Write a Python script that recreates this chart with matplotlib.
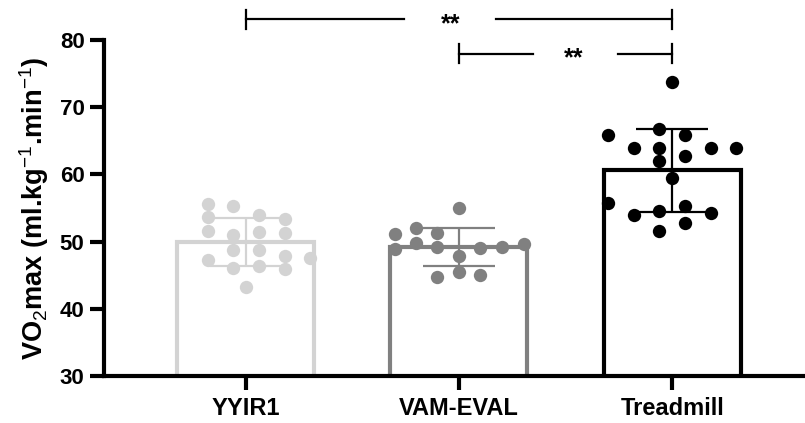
import numpy as np
import matplotlib
matplotlib.use("Agg")
import matplotlib.pyplot as plt

plt.rcParams['font.family'] = ['Liberation Sans', 'DejaVu Sans']
plt.rcParams['mathtext.fontset'] = 'custom'
plt.rcParams['mathtext.rm'] = 'Liberation Sans'
plt.rcParams['mathtext.bf'] = 'Liberation Sans:bold'

# ---------------- data ----------------
categories = ["YYIR1", "VAM-EVAL", "Treadmill"]
yyir1_vals = [55.6, 55.3, 53.7, 54.0, 53.3, 51.6, 51.5, 51.3, 51.0,
              48.7, 48.7, 47.9, 47.5, 47.3, 46.0, 46.4, 45.9, 43.2]
vam_vals = [55.0, 51.2, 52.0, 51.3, 48.9, 49.8, 49.2, 47.8, 49.1,
            49.2, 49.6, 44.8, 45.5, 45.1]
tread_vals = [73.7, 65.9, 66.8, 65.9, 63.9, 64.0, 64.0, 64.0, 62.8,
              62.0, 59.4, 55.8, 54.0, 54.6, 55.3, 54.2, 51.6, 52.7]
# horizontal scatter offsets of the dots (layout, in category units)
yyir1_jit = [-0.177, -0.060, -0.177, 0.061, 0.183, -0.177, 0.061, 0.183, -0.060,
             -0.060, 0.061, 0.183, 0.300, -0.177, -0.060, 0.061, 0.183, 0.0]
vam_jit = [0.0, -0.300, -0.202, -0.102, -0.300, -0.202, -0.102, 0.0, 0.098,
           0.202, 0.305, -0.102, 0.0, 0.098]
tread_jit = [0.0, -0.302, -0.060, 0.062, -0.181, -0.060, 0.183, 0.300, 0.062,
             -0.060, 0.0, -0.302, -0.181, -0.060, 0.062, 0.183, -0.060, 0.062]
yticks = [30, 40, 50, 60, 70, 80]
sig_labels = ["**", "**"]

groups = [yyir1_vals, vam_vals, tread_vals]
jitters = [yyir1_jit, vam_jit, tread_jit]
colors = ["#d3d3d3", "#808080", "#000000"]

means = [np.mean(g) for g in groups]
sds = [np.std(g, ddof=1) for g in groups]

# ---------------- figure ----------------
fig = plt.figure(figsize=(8.05, 4.23), dpi=100)
ax = fig.add_axes([0.1292, 0.1111, 0.8683, 0.7943])

x = np.arange(len(categories))
bars = ax.bar(x, means, width=0.642, bottom=0, facecolor="white",
              edgecolor=colors, linewidth=3, zorder=2)
for b in bars:
    b.set_joinstyle("miter")

cap = 0.169
for xi, m, s, c in zip(x, means, sds, colors):
    ax.vlines(xi, m - s, m + s, color=c, lw=1.6, zorder=3)
    ax.hlines([m - s, m + s], xi - cap, xi + cap, color=c, lw=1.6, zorder=3)

for xi, vals, jit, c in zip(x, groups, jitters, colors):
    ax.plot(xi + np.array(jit), vals, "o", ms=9.6, mew=0, color=c,
            zorder=4, clip_on=False)

ax.set_xlim(-0.664, 2.613)
ax.set_ylim(30, 80)
ax.set_yticks(yticks)
ax.set_xticks(x)
ax.set_xticklabels(categories, fontsize=17, fontweight="bold")
ax.set_yticklabels([str(t) for t in yticks], fontsize=16, fontweight="bold")
for sp in ["top", "right"]:
    ax.spines[sp].set_visible(False)
for sp in ["left", "bottom"]:
    ax.spines[sp].set_linewidth(3)
    ax.spines[sp].set_capstyle("projecting")
ax.tick_params(axis="both", direction="out", length=10, width=3)
ax.tick_params(axis="y", pad=4)
ax.tick_params(axis="x", pad=5)

ax.set_ylabel(r"VO$_\mathrm{2}$max (ml.kg$^\mathrm{-1}$.min$^\mathrm{-1}$)",
              fontsize=19.5, fontweight="bold", labelpad=6)

# ---------------- significance brackets ----------------
def bracket(x1, x2, y, gap_l, gap_r, tx, label):
    kw = dict(color="black", lw=1.6, clip_on=False, zorder=5)
    ax.plot([x1, gap_l], [y, y], **kw)
    ax.plot([gap_r, x2], [y, y], **kw)
    ax.plot([x1, x1], [y - 1.4, y + 1.4], **kw)
    ax.plot([x2, x2], [y - 1.4, y + 1.4], **kw)
    ax.text(tx, y - 0.7, label, ha="center", va="center", fontsize=18,
            fontweight="bold", clip_on=False)

bracket(0.0, 2.0, 83.1, 0.742, 1.173, 0.96, sig_labels[0])
bracket(1.0, 2.0, 77.95, 1.347, 1.746, 1.54, sig_labels[1])

fig.savefig("out.png", dpi=100)
